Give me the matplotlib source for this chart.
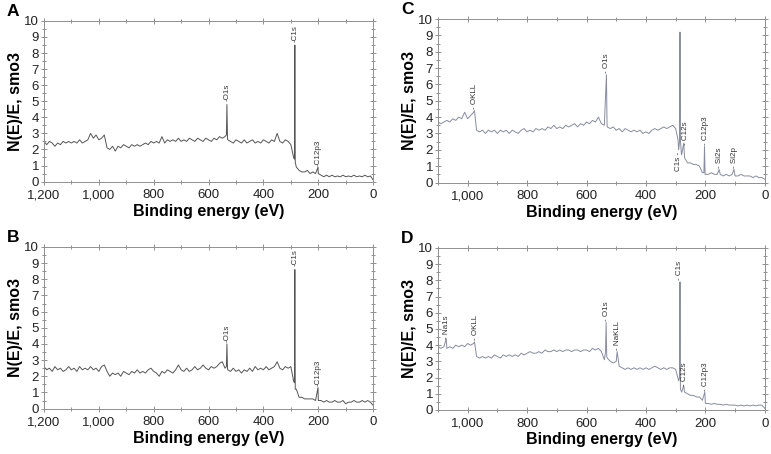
import numpy as np
import matplotlib
matplotlib.use("Agg")
import matplotlib.pyplot as plt
from matplotlib.ticker import MultipleLocator, FuncFormatter

plt.rcParams['font.family'] = ['Liberation Sans', 'DejaVu Sans']

# ---- spectra: background read on a 10 eV grid, peaks added as extra points ----
grid_a = np.arange(1200, -1, -10)
base_a = [2.5, 2.3, 2.5, 2.4, 2.2, 2.4, 2.3, 2.5, 2.4, 2.5,
          2.4, 2.5, 2.4, 2.6, 2.4, 2.5, 2.6, 3.0, 2.7, 2.9,
          2.6, 2.7, 2.9, 2.1, 2.0, 2.2, 1.9, 2.2, 2.1, 2.3,
          2.2, 2.1, 2.3, 2.2, 2.3, 2.2, 2.3, 2.4, 2.3, 2.5,
          2.4, 2.5, 2.4, 2.8, 2.4, 2.6, 2.5, 2.6, 2.5, 2.7,
          2.5, 2.6, 2.5, 2.7, 2.6, 2.5, 2.7, 2.6, 2.5, 2.7,
          2.6, 2.5, 2.7, 2.6, 2.8, 2.7, 2.8, 2.6, 2.5, 2.4,
          2.6, 2.5, 2.4, 2.6, 2.4, 2.5, 2.6, 2.4, 2.5, 2.4,
          2.6, 2.5, 2.4, 2.6, 2.5, 3.0, 2.5, 2.4, 2.6, 2.5,
          2.3, 1.5, 0.9, 0.7, 0.6, 0.6, 0.7, 0.5, 0.6, 0.5,
          0.5, 0.4, 0.3, 0.4, 0.3, 0.4, 0.3, 0.35, 0.3, 0.4,
          0.3, 0.35, 0.3, 0.4, 0.3, 0.35, 0.3, 0.4, 0.3, 0.35,
          0.1]
peak_e_a = [535, 533, 531, 287, 285.5, 284, 201]
peak_v_a = [2.9, 4.8, 2.7, 1.4, 8.5, 1.2, 0.9]

grid_b = np.arange(1200, -1, -10)
base_b = [2.6, 2.4, 2.5, 2.3, 2.6, 2.4, 2.5, 2.3, 2.4, 2.6,
          2.4, 2.5, 2.3, 2.6, 2.4, 2.5, 2.4, 2.6, 2.4, 2.5,
          2.3, 2.6, 2.7, 2.3, 2.0, 2.2, 2.1, 2.2, 2.0, 2.3,
          2.2, 2.1, 2.3, 2.2, 2.4, 2.2, 2.3, 2.2, 2.4, 2.5,
          2.3, 2.2, 2.0, 2.3, 2.2, 2.4, 2.3, 2.2, 2.4, 2.7,
          2.4, 2.3, 2.5, 2.3, 2.4, 2.6, 2.4, 2.5, 2.7, 2.5,
          2.4, 2.6, 2.5, 2.6, 2.8, 2.9, 2.5, 2.4, 2.3, 2.5,
          2.3, 2.4, 2.2, 2.4, 2.3, 2.5, 2.3, 2.6, 2.4, 2.5,
          2.4, 2.6, 2.4, 2.5, 2.6, 2.9, 2.5, 2.4, 2.6, 2.5,
          2.6, 1.7, 1.2, 0.7, 0.7, 0.6, 0.6, 0.6, 0.6, 0.5,
          0.5, 0.5, 0.4, 0.5, 0.4, 0.4, 0.5, 0.4, 0.4, 0.5,
          0.3, 0.4, 0.4, 0.5, 0.4, 0.4, 0.5, 0.4, 0.5, 0.4,
          0.2]
peak_e_b = [535, 533, 531, 287, 285.5, 284, 201]
peak_v_b = [2.6, 4.0, 2.5, 1.6, 8.6, 1.2, 1.3]

grid_c = np.arange(1100, -1, -10)
base_c = [3.7, 3.6, 3.7, 3.8, 3.7, 3.9, 3.8, 4.0, 3.9, 4.3,
          3.9, 4.1, 4.3, 3.2, 3.1, 3.2, 3.0, 3.2, 3.1, 3.2,
          3.0, 3.2, 3.1, 3.2, 3.0, 3.2, 3.1, 3.0, 3.2, 3.3,
          3.1, 3.2, 3.1, 3.3, 3.2, 3.3, 3.2, 3.4, 3.3, 3.5,
          3.3, 3.4, 3.3, 3.5, 3.4, 3.5, 3.6, 3.4, 3.6, 3.5,
          3.7, 3.6, 3.8, 3.7, 4.0, 3.6, 3.5, 3.4, 3.3, 3.4,
          3.2, 3.3, 3.1, 3.3, 3.2, 3.1, 3.2, 3.1, 3.2, 3.0,
          3.1, 3.0, 3.2, 3.3, 3.2, 3.3, 3.4, 3.3, 3.4, 3.5,
          3.3, 2.0, 1.7, 1.5, 1.2, 1.2, 1.1, 1.1, 1.0, 0.6,
          0.5, 0.5, 0.6, 0.5, 0.5, 0.5, 0.4, 0.5, 0.4, 0.5,
          0.4, 0.4, 0.5, 0.4, 0.4, 0.4, 0.3, 0.4, 0.3, 0.3,
          0.2]
peak_e_c = [977, 533, 531, 292, 287, 285.5, 284, 281, 273, 205, 203, 201, 154, 104]
peak_v_c = [4.4, 6.6, 3.6, 2.6, 2.5, 9.2, 2.6, 1.8, 2.4, 0.6, 2.2, 0.5, 0.8, 0.8]

grid_d = np.arange(1100, -1, -10)
base_d = [3.9, 3.8, 3.9, 3.8, 3.9, 3.8, 4.0, 3.9, 4.0, 3.9,
          4.1, 4.0, 4.1, 3.3, 3.2, 3.3, 3.2, 3.3, 3.2, 3.4,
          3.3, 3.2, 3.4, 3.3, 3.4, 3.3, 3.4, 3.3, 3.5, 3.4,
          3.5, 3.6, 3.5, 3.5, 3.6, 3.5, 3.7, 3.6, 3.6, 3.7,
          3.6, 3.7, 3.6, 3.7, 3.7, 3.6, 3.7, 3.7, 3.6, 3.7,
          3.7, 3.6, 3.8, 3.7, 3.8, 3.6, 3.1, 3.2, 3.0, 2.9,
          3.0, 2.7, 2.6, 2.5, 2.6, 2.5, 2.6, 2.5, 2.6, 2.5,
          2.6, 2.5, 2.6, 2.7, 2.6, 2.5, 2.6, 2.5, 2.6, 2.6,
          2.5, 1.8, 1.1, 1.1, 1.0, 0.9, 0.9, 0.8, 0.8, 0.6,
          0.4, 0.4, 0.35, 0.4, 0.35, 0.35, 0.3, 0.35, 0.3, 0.3,
          0.3, 0.25, 0.3, 0.25, 0.3, 0.25, 0.3, 0.25, 0.3, 0.3,
          0.1]
peak_e_d = [1072, 977, 536, 534, 532, 497, 287, 285.5, 284, 273, 202]
peak_v_d = [4.4, 4.2, 3.6, 5.4, 3.3, 3.6, 2.0, 7.9, 1.3, 1.5, 1.1]

# peak labels: (text, energy, label base height)
labels_a = [("-O1s", 533, 5.0), ("-C1s", 285.5, 8.7), ("-C12p3", 201, 1.0)]
labels_b = [("-O1s", 533, 4.1), ("-C1s", 285.5, 8.8), ("-C12p3", 201, 1.4)]
labels_c = [("- OKLL", 977, 4.5), ("- O1s", 533, 6.7), ("- C12s", 268, 2.3),
            ("- C12p3", 201, 2.3), ("- Si2s", 152, 0.9), ("- Si2p", 102, 0.9)]
labels_d = [("- Na1s", 1072, 4.4), ("- OKLL", 975, 4.3), ("- O1s", 533, 5.5),
            ("- NaKLL", 495, 3.7), ("- C1s", 285.5, 8.0), ("- C12s", 269, 1.5),
            ("- C12p3", 200, 1.2)]
low_label_c = ("C1s -", 290, 1.9)

def spectrum(grid, base, pe, pv):
    e = np.concatenate([grid, pe])
    v = np.concatenate([base, pv])
    order = np.argsort(e)
    return e[order], v[order]

fig = plt.figure(figsize=(7.71, 4.54), dpi=100)

panels = [
    ("A", [0.057, 0.600, 0.427, 0.354], grid_a, base_a, peak_e_a, peak_v_a, labels_a, 1200, "#555555"),
    ("B", [0.057, 0.100, 0.427, 0.356], grid_b, base_b, peak_e_b, peak_v_b, labels_b, 1200, "#555555"),
    ("C", [0.568, 0.598, 0.424, 0.360], grid_c, base_c, peak_e_c, peak_v_c, labels_c, 1100, "#878ca0"),
    ("D", [0.568, 0.097, 0.424, 0.357], grid_d, base_d, peak_e_d, peak_v_d, labels_d, 1100, "#878ca0"),
]

comma = FuncFormatter(lambda v, p: f"{int(v):,}")

for letter, rect, grid, base, pe, pv, labels, xmax, col in panels:
    ax = fig.add_axes(rect)
    e, v = spectrum(grid, base, pe, pv)
    ax.plot(e, v, color=col, lw=0.7)
    ax.set_xlim(xmax, 0)
    ax.set_ylim(0, 10)
    ax.xaxis.set_major_locator(MultipleLocator(200))
    ax.xaxis.set_minor_locator(MultipleLocator(100))
    ax.xaxis.set_major_formatter(comma)
    ax.yaxis.set_major_locator(MultipleLocator(1))
    ax.yaxis.set_minor_locator(MultipleLocator(0.5))
    ax.tick_params(which="both", direction="inout", top=True, right=True,
                   color="#808080", width=0.6, labelcolor="#222222", labelsize=9.5)
    ax.tick_params(axis="x", pad=3)
    ax.tick_params(axis="y", pad=1)
    ax.tick_params(which="major", length=5)
    ax.tick_params(which="minor", length=3)
    for s in ax.spines.values():
        s.set_color("#909090")
        s.set_linewidth(0.7)
    ax.set_xlabel("Binding energy (eV)", fontsize=11.5, fontweight="bold", labelpad=2)
    ax.set_ylabel("N(E)/E, smo3", fontsize=11.5, fontweight="bold", labelpad=1)
    for txt, x, y in labels:
        ax.text(x, y, txt, rotation=90, fontsize=5.8, color="#333333",
                ha="center", va="bottom")
    if letter == "C":
        txt, x, y = low_label_c
        ax.text(x, y, txt, rotation=90, fontsize=5.8, color="#333333",
                ha="center", va="top")
    fig.text(rect[0] - 0.048, rect[1] + rect[3] + 0.02, letter, fontsize=12.5,
             fontweight="bold", ha="left", va="center")

fig.savefig("out.png", dpi=100)
